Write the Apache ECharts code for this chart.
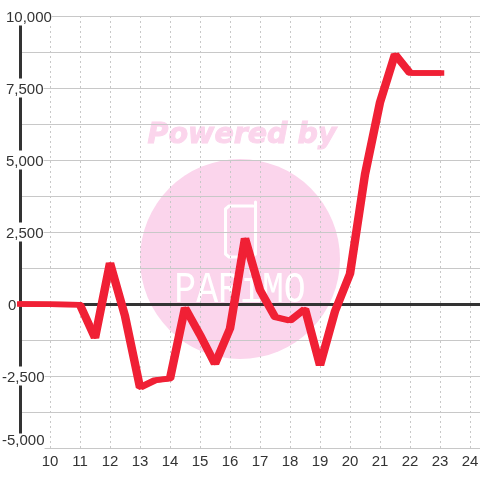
<!DOCTYPE html>
<html><head><meta charset="utf-8">
<style>html,body{margin:0;padding:0;background:#fff}#c{width:480px;height:480px}</style>
<script src="https://cdn.jsdelivr.net/npm/echarts@6/dist/echarts.min.js"></script>
</head><body><div id="c"></div>
<script>
const xValues = [9,10,11,11.5,12,12.5,13,13.5,14,14.5,15,15.5,16,16.5,17,17.5,18,18.5,19,19.5,20,20.5,21,21.5,22,22.5,23];
const yValues = [0,-10,-30,-1180,1420,-420,-2900,-2650,-2590,-130,-1070,-2080,-850,2280,480,-450,-580,-170,-2130,-250,1050,4500,7000,8670,8020,8020,8020];
const points = xValues.map((x,i)=>[x,yValues[i]]);
const textCol = '#333';
const fmt = v => {
  if (v % 2500 !== 0) return '';
  const s = Math.abs(v).toLocaleString('en-US');
  const name = v === 0 ? 'z' : (v === -5000 ? 'b' : (v < 0 ? 'n' : 'p'));
  return '{' + name + '|' + (v < 0 ? '-' : '') + s + '}';
};
const lbl = {color:textCol,fontSize:15,fontFamily:'Liberation Sans',backgroundColor:'#fff',lineHeight:17};
const pink = '#fbd5ec';
const lineCol = '#f02035';
const chart = echarts.init(document.getElementById('c'),null,{renderer:'canvas'});
chart.setOption({
  animation:false,
  backgroundColor:'#fff',
  grid:{left:20,right:0,top:16,bottom:32,outerBoundsMode:'none',containLabel:false},
  xAxis:[{
    type:'value',min:9,max:24.3333,interval:1,position:'bottom',
    axisLine:{show:false,onZero:false},axisTick:{show:false},
    axisLabel:{margin:6,color:textCol,fontSize:15,fontFamily:'Liberation Sans',showMinLabel:false,
      formatter:v=>Number.isInteger(v)?String(v):''},
    splitLine:{show:true,lineStyle:{color:'#c8c8c8',type:[2,3],width:1}}
  },{
    type:'value',min:9.05,max:24.3833,
    axisLine:{show:true,onZero:true,lineStyle:{color:textCol,width:3}},
    axisTick:{show:false},axisLabel:{show:false},splitLine:{show:false}
  }],
  yAxis:{
    type:'value',min:-5000,max:10000,interval:1250,
    axisLine:{show:true,onZero:false,lineStyle:{color:textCol,width:3}},
    axisTick:{show:false},
    axisLabel:{margin:18,align:'left',formatter:fmt,
      rich:{p:{...lbl,padding:[4,0,0,4]},n:{...lbl,padding:[4,0,0,0]},z:{...lbl,padding:[4,0,0,6]},
        b:{...lbl,lineHeight:11,padding:[0,0,14,0]}}},
    splitLine:{show:true,lineStyle:{color:'#c8c8c8',width:1}}
  },
  graphic:[
    {type:'circle',z:-10,shape:{cx:240,cy:259,r:100},style:{fill:pink},silent:true},
    {type:'text',z:-10,x:242,y:136,style:{text:'Powered by',fill:pink,stroke:pink,lineWidth:1,font:'italic bold 28.5px "DejaVu Sans"',textAlign:'center',textVerticalAlign:'middle'},silent:true},
    {type:'polyline',z:-9,shape:{points:[[253,206],[229,206],[225.5,209],[225.5,254],[229,257],[252,257],[255.5,254],[255.5,202]]},style:{fill:'none',stroke:'#fff',lineWidth:3,lineCap:'round',lineJoin:'round'},silent:true},
    {type:'text',z:-9,x:240,y:290,scaleX:0.83,style:{text:'PARiMO',fill:'#fff',font:'44px "Liberation Mono"',textAlign:'center',textVerticalAlign:'middle'},silent:true}
  ],
  series:[{type:'line',data:points,xAxisIndex:1,showSymbol:false,symbol:'none',smooth:false,z:5,
    lineStyle:{color:lineCol,width:5.5,cap:'square',join:'bevel',shadowColor:lineCol,shadowBlur:0,shadowOffsetX:3}}]
});
</script></body></html>
